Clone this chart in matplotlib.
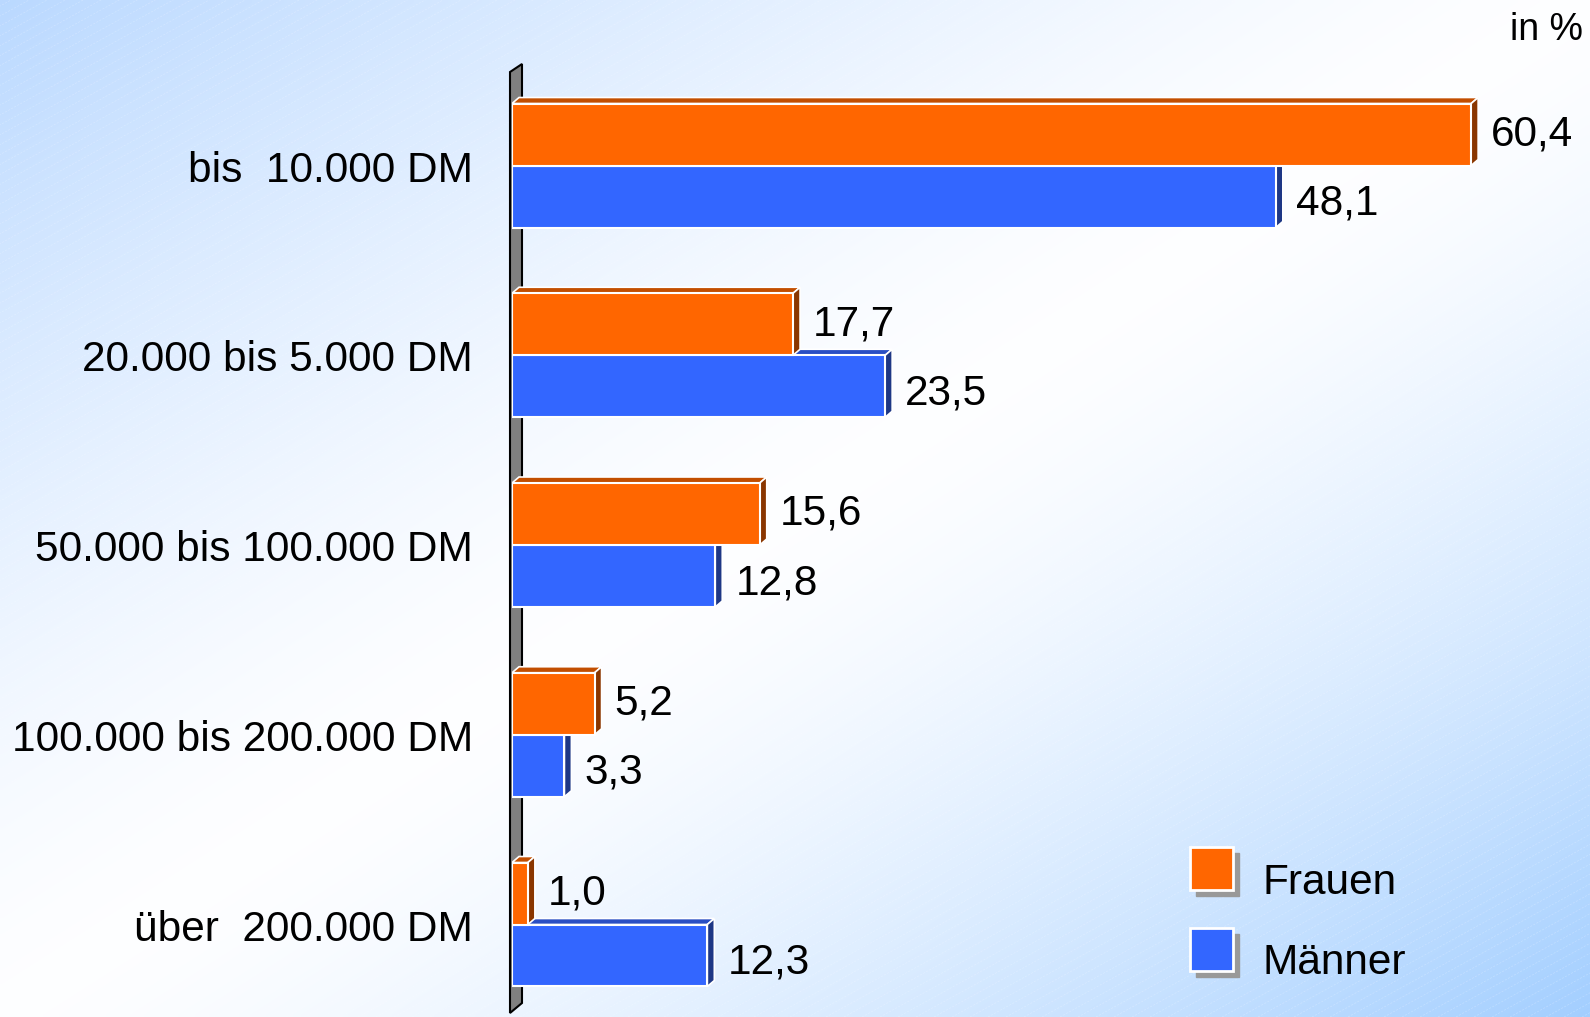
import matplotlib.pyplot as plt
import numpy as np
from matplotlib.patches import Polygon, Rectangle

categories = ['bis  10.000 DM', '20.000 bis 5.000 DM', '50.000 bis 100.000 DM',
              '100.000 bis 200.000 DM', 'über  200.000 DM']
frauen = [60.4, 17.7, 15.6, 5.2, 1.0]
maenner = [48.1, 23.5, 12.8, 3.3, 12.3]
series_names = ['Frauen', 'Männer']

plt.rcParams['font.family'] = ['Liberation Sans', 'DejaVu Sans']
FS = 30.5

W, H = 1590, 1017
X0 = 512          # pixel of value 0
PXX = 15.88       # pixels per percent
Y0 = 165.5        # pixel centre of first group
PY = 189.75       # pixels per category step

# colours: front, top, side
orange = ('#FF6600', '#C24E00', '#8A3600')
blue = ('#3366FF', '#2A4FC4', '#1E3785')

fig = plt.figure(figsize=(W / 100, H / 100), dpi=100)

# background gradient
bg = fig.add_axes([0, 0, 1, 1], zorder=0)
gx, gy = np.meshgrid(np.linspace(0, 1, 320), np.linspace(0, 1, 205))
t = (gx + gy) / 2
d = np.abs(t - 0.5) * 2
f = d ** 1.45
c_tl = np.array([0.73, 0.85, 1.0])
c_br = np.array([0.64, 0.81, 1.0])
white = np.array([0.995, 0.997, 1.0])
edge = np.where((t < 0.5)[..., None], c_tl, c_br)
img = white * (1 - f[..., None]) + edge * f[..., None]
bg.imshow(img, extent=(0, W, H, 0), aspect='auto', interpolation='bilinear', zorder=0)
# faint diagonal pattern
for x0 in np.arange(-2000, W + 50, 18):
    bg.plot([x0, x0 + 2000], [H, H - 2000 * 0.55], color='white', lw=0.5,
            alpha=0.25, ls=(0, (3, 2)), zorder=1)
bg.set_xlim(0, W)
bg.set_ylim(H, 0)
bg.axis('off')

# legend
leg_cols = [orange[0], blue[0]]
for k, (name, col) in enumerate(zip(series_names, leg_cols)):
    y = 847 + k * 81
    bg.add_patch(Rectangle((1196, y + 6), 43, 43, color='#999999', zorder=3))
    bg.add_patch(Rectangle((1190, y), 43, 43, facecolor=col, edgecolor='white',
                           lw=2, zorder=4))
    bg.text(1263, y + 21.5 + 15 + 10, name, fontsize=FS, va='baseline', ha='left', zorder=5)

bg.text(1583, 40, 'in %', fontsize=27, ha='right', va='baseline', zorder=5)

# main axes in data units
ax = fig.add_axes([X0 / W, 0, (W - X0) / W, 1], zorder=1)
ax.patch.set_alpha(0)
ax.set_xlim(0, (W - X0) / PXX)
ax.set_ylim((H - Y0) / PY, -Y0 / PY)
ax.axis('off')

dx = 7 / PXX
dy = 6 / PY
h = 62 / PY
cap = 15 / PY

# axis wall
wx = lambda px: (px - X0) / PXX
wy = lambda py: (py - Y0) / PY
wall = Polygon([(wx(510), wy(72)), (wx(522), wy(64)), (wx(522), wy(1003)),
                (wx(510), wy(1013))], closed=True, facecolor='#808080',
               edgecolor='black', lw=1.5, zorder=1, clip_on=False)
ax.add_patch(wall)


def faces(v, top, bottom, cols, z):
    topf = Polygon([(0, top), (dx, top - dy), (v + dx, top - dy), (v, top)],
                   closed=True, facecolor=cols[1], edgecolor='white', lw=1.2, zorder=z)
    side = Polygon([(v, top), (v + dx, top - dy), (v + dx, bottom - dy), (v, bottom)],
                   closed=True, facecolor=cols[2], edgecolor='white', lw=1.2, zorder=z)
    ax.add_patch(topf)
    ax.add_patch(side)


ypos = np.arange(len(categories))
for i in ypos:
    faces(maenner[i], i, i + h, blue, 2)
    faces(frauen[i], i - h, i, orange, 4)

ax.barh(ypos + h / 2, maenner, height=h, left=0, color=blue[0], edgecolor='white',
        lw=1.5, zorder=3)
ax.barh(ypos - h / 2, frauen, height=h, left=0, color=orange[0], edgecolor='white',
        lw=1.5, zorder=5)

off = 20 / PXX
for i in ypos:
    ax.text(frauen[i] + off, i - h / 2 + cap - 4 / PY, f'{frauen[i]:.1f}'.replace('.', ','),
            fontsize=FS, va='baseline', ha='left', zorder=6)
    ax.text(maenner[i] + off, i + h / 2 + cap + 3 / PY, f'{maenner[i]:.1f}'.replace('.', ','),
            fontsize=FS, va='baseline', ha='left', zorder=6)
    ax.text(wx(473), i + cap + 1 / PY, categories[i], fontsize=FS, va='baseline',
            ha='right', clip_on=False, zorder=6)

fig.savefig('out.png', dpi=100)
